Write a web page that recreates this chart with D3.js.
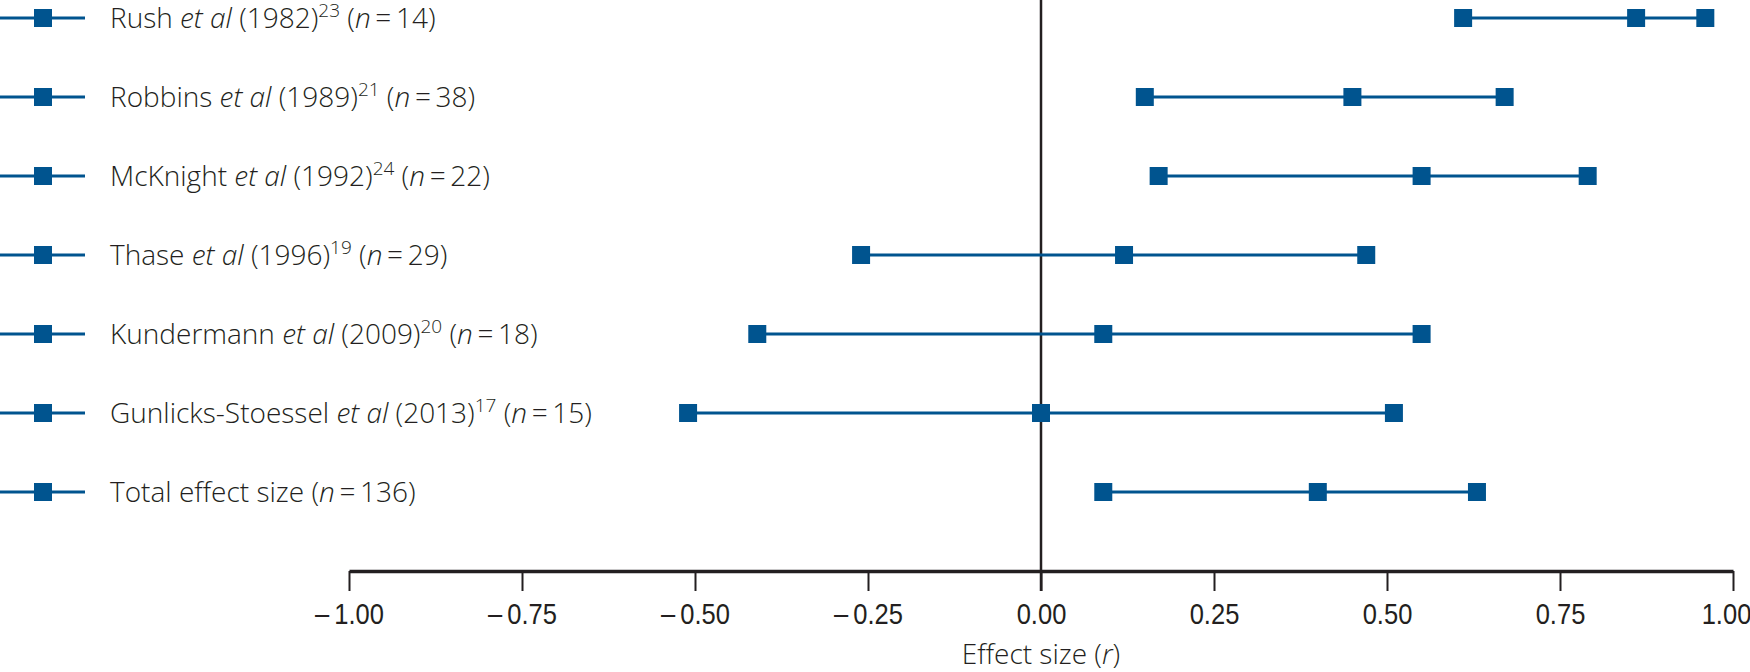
<!DOCTYPE html>
<html>
<head>
<meta charset="utf-8">
<script src="https://cdn.jsdelivr.net/npm/d3@7"></script>
<style>
  body { margin: 0; background: #fff; }
  svg { display: block; }
  .lbl { font-family: "Open Sans", "Noto Sans", sans-serif; font-weight: 300; font-size: 28px; fill: #231f20; }
  .tick text { font-family: "Liberation Sans", sans-serif; font-size: 29px; fill: #231f20; }
</style>
</head>
<body>
<svg id="chart" width="1750" height="672"></svg>
<script>
const authors = ["Rush", "Robbins", "McKnight", "Thase", "Kundermann", "Gunlicks-Stoessel", "Total effect size"];
const years = ["1982", "1989", "1992", "1996", "2009", "2013", null];
const refs = ["23", "21", "24", "19", "20", "17", null];
const ns = [14, 38, 22, 29, 18, 15, 136];
const lower = [0.61, 0.15, 0.17, -0.26, -0.41, -0.51, 0.09];
const effect = [0.86, 0.45, 0.55, 0.12, 0.09, 0.00, 0.40];
const upper = [0.96, 0.67, 0.79, 0.47, 0.55, 0.51, 0.63];
const ticks = [-1, -0.75, -0.5, -0.25, 0, 0.25, 0.5, 0.75, 1];

const blue = "#00548f";
const ink = "#231f20";
const svg = d3.select("#chart");

const x = d3.scaleLinear().domain([-1, 1]).range([349, 1733]);
const y = d3.scalePoint().domain(d3.range(authors.length)).range([18, 492]);
const axisY = 571;

// zero line
svg.append("line")
  .attr("x1", x(0)).attr("x2", x(0))
  .attr("y1", 0).attr("y2", axisY + 20)
  .attr("stroke", ink).attr("stroke-width", 2.5);

// x axis
const xAxis = d3.axisBottom(x).tickValues(ticks).tickSize(20).tickSizeOuter(0).tickPadding(12)
  .tickFormat(t => (t < 0 ? "\u2013\u2009" : "") + Math.abs(t).toFixed(2));
const gx = svg.append("g").attr("transform", `translate(0,${axisY})`).call(xAxis);
gx.select(".domain").attr("stroke", ink).attr("stroke-width", 3.5);
gx.selectAll(".tick line").attr("stroke", ink).attr("stroke-width", 2);
// condensed look of the tick numbers; keep the last one inside the frame
gx.selectAll(".tick text").attr("transform", d => `translate(${d === 1 ? -7 : 0},0) scale(0.88,1)`);

svg.append("text").attr("class", "lbl")
  .attr("x", x(0)).attr("y", 664).attr("text-anchor", "middle")
  .call(t => {
    t.append("tspan").text("Effect size (");
    t.append("tspan").attr("font-style", "italic").text("r");
    t.append("tspan").text(")");
  });

// rows
const rows = svg.selectAll("g.row").data(authors).enter().append("g")
  .attr("class", "row")
  .attr("transform", (d, i) => `translate(0,${y(i)})`);

// legend marker
rows.append("line").attr("x1", 0).attr("x2", 85).attr("y1", 0).attr("y2", 0)
  .attr("stroke", blue).attr("stroke-width", 3);
rows.append("rect").attr("x", 34).attr("y", -9).attr("width", 18).attr("height", 18).attr("fill", blue);

// label
rows.append("text").attr("class", "lbl").attr("x", 110).attr("y", 10)
  .each(function (d, i) {
    const t = d3.select(this);
    t.append("tspan").text(d + (years[i] ? " " : ""));
    if (years[i]) {
      t.append("tspan").attr("font-style", "italic").text("et al");
      t.append("tspan").text(" (" + years[i] + ")");
      t.append("tspan").attr("font-size", 19).attr("dy", -11).text(refs[i]);
      t.append("tspan").attr("dy", 11).text(" (");
    } else {
      t.append("tspan").text(" (");
    }
    t.append("tspan").attr("font-style", "italic").text("n");
    t.append("tspan").text("\u2009=\u2009" + ns[i] + ")");
  });

// intervals
rows.append("line")
  .attr("x1", (d, i) => x(lower[i])).attr("x2", (d, i) => x(upper[i]))
  .attr("y1", 0).attr("y2", 0)
  .attr("stroke", blue).attr("stroke-width", 3);
rows.selectAll("rect.pt")
  .data((d, i) => [lower[i], effect[i], upper[i]])
  .enter().append("rect").attr("class", "pt")
  .attr("x", v => x(v) - 9).attr("y", -9)
  .attr("width", 18).attr("height", 18).attr("fill", blue);
</script>
</body>
</html>
